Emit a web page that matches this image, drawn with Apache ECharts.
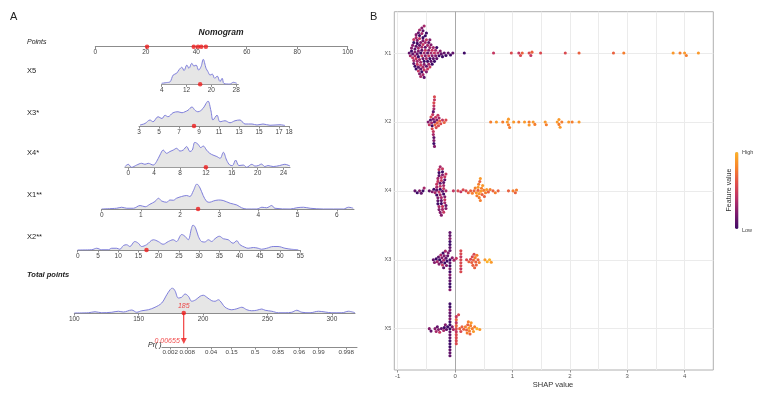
<!DOCTYPE html>
<html>
<head>
<meta charset="utf-8">
<script src="https://cdn.jsdelivr.net/npm/echarts@6/dist/echarts.min.js"></script>
<style>
  html, body { margin: 0; padding: 0; background: #fff; }
  #chart { width: 767px; height: 400px; }
</style>
</head>
<body>
<div id="chart"></div>
<script>
// ---- panel A : nomogram data ----
const pointsTicks = [0, 20, 40, 60, 80, 100];
const pointsMarks = [20.5, 39.0, 40.7, 42.0, 43.8];

const x5Ticks = [4, 12, 20, 28];
const x5Mark = 16.4;
const x5Density = [[4.0,0.04],[5.6,0.07],[6.7,0.1],[7.7,0.37],[8.8,0.44],[9.7,0.6],[10.5,0.68],[11.2,0.55],[12.1,0.77],[12.8,0.64],[13.7,0.84],[14.4,0.73],[15.1,0.77],[15.9,0.57],[16.7,0.71],[17.4,1.0],[18.3,0.64],[18.9,0.51],[19.6,0.37],[20.3,0.41],[21.1,0.24],[21.9,0.33],[22.8,0.11],[23.5,0.24],[24.1,0.03],[26.0,0.01],[27.1,0.08],[28.2,0.04]];

const x3Ticks = [3, 5, 7, 9, 11, 13, 15, 17, 18];
const x3Mark = 8.5;
const x3Density = [[3.1,0.04],[3.6,0.1],[4.1,0.24],[4.4,0.17],[4.9,0.37],[5.3,0.3],[5.6,0.43],[5.9,0.37],[6.4,0.53],[6.9,0.57],[7.3,0.53],[7.6,0.57],[7.9,0.63],[8.3,0.76],[8.6,0.63],[8.9,0.57],[9.4,0.7],[9.7,0.9],[9.9,1.0],[10.2,0.6],[10.4,0.24],[10.8,0.43],[11.1,0.17],[11.6,0.21],[12.1,0.13],[12.6,0.21],[13.1,0.24],[13.6,0.08],[14.3,0.08],[14.8,0.04],[15.4,0.08],[16.1,0.03],[17.1,0.05],[17.6,0.02]];

const x4Ticks = [0, 4, 8, 12, 16, 20, 24];
const x4Mark = 12;
const x4Density = [[-0.5,0.03],[0,0.12],[0.52,0.0],[1.3,0.09],[2.07,0.16],[2.58,0.12],[3.09,0.16],[3.86,0.09],[4.38,0.23],[4.9,0.49],[5.41,0.69],[5.93,0.56],[6.44,0.63],[6.96,0.69],[7.48,0.76],[7.99,0.65],[8.5,0.69],[9.03,0.83],[9.54,0.63],[9.9,0.69],[10.3,1.0],[10.8,0.92],[11.2,0.79],[11.6,0.85],[12.1,0.69],[12.6,0.56],[13.1,0.49],[13.7,0.43],[14.2,0.36],[14.7,0.6],[15.2,0.29],[15.7,0.09],[16.1,0.07],[16.6,0.29],[17.1,0.07],[17.8,0.09],[18.3,0.0],[19.1,0.12],[19.6,0.05],[20.1,0.07],[20.6,0.13],[21.1,0.03],[21.6,0.07],[22.4,0.03],[23.4,0.07],[24.2,0.12],[25.0,0.05]];

const x1Ticks = [0, 1, 2, 3, 4, 5, 6];
const x1Mark = 2.46;
const x1Density = [[0,0],[0.38,0.03],[0.51,0.07],[0.64,0.03],[0.81,0.03],[0.98,0.14],[1.11,0.09],[1.23,0.19],[1.36,0.3],[1.45,0.43],[1.53,0.32],[1.66,0.27],[1.74,0.36],[1.83,0.35],[1.91,0.43],[2.04,0.5],[2.17,0.54],[2.25,0.5],[2.34,0.73],[2.43,1.0],[2.51,0.84],[2.59,0.54],[2.68,0.3],[2.76,0.27],[2.85,0.32],[2.98,0.36],[3.1,0.34],[3.28,0.23],[3.45,0.16],[3.57,0.05],[3.7,0],[3.96,0],[4.09,0.07],[4.21,0.05],[4.34,0.14],[4.42,0.03],[4.81,0],[4.98,0.05],[5.15,0.07],[5.32,0.03],[5.66,0],[6.17,0],[6.3,0.07],[6.42,0.03]];

const x2Ticks = [0, 5, 10, 15, 20, 25, 30, 35, 40, 45, 50, 55];
const x2Mark = 17.0;
const x2Density = [[0,0],[3.46,0.01],[4.69,0.07],[5.93,0.01],[7.57,0.01],[8.4,0.07],[9.63,0.07],[10.4,0.03],[11.3,0.18],[12.1,0.21],[12.9,0.14],[14.1,0.34],[15.0,0.27],[15.8,0.14],[17.0,0.21],[18.7,0.41],[19.9,0.34],[21.1,0.23],[22.4,0.34],[23.6,0.41],[24.4,0.34],[25.7,0.62],[26.5,0.55],[27.3,0.41],[28.1,0.86],[28.5,1.0],[29.1,0.89],[29.8,0.55],[30.6,0.34],[31.4,0.32],[32.3,0.41],[33.1,0.34],[33.9,0.45],[35.0,0.55],[36.0,0.45],[37.2,0.41],[38.4,0.27],[39.3,0.37],[40.1,0.21],[41.3,0.11],[42.1,0.07],[43.4,0.1],[44.6,0.07],[45.4,0.03],[46.7,0.07],[48.3,0.14],[49.5,0.14],[51.2,0.07],[52.8,0.03],[54.5,0.01]];

const totalTicks = [100, 150, 200, 250, 300];
const totalMark = 185;
const totalDensity = [[100,0],[110.9,0.01],[116.1,0.05],[121.3,0.01],[129.1,0.03],[134.2,0.07],[138.1,0.04],[144.6,0.12],[148.5,0.03],[152.4,0.09],[157.5,0.13],[162.7,0.23],[167.9,0.4],[171.8,0.73],[174.4,0.93],[176.1,1.0],[178.2,0.89],[180.8,0.6],[183.4,0.63],[186.0,0.76],[188.6,0.67],[191.2,0.47],[194.3,0.53],[197.7,0.67],[200.2,0.71],[202.9,0.63],[206.8,0.49],[209.3,0.47],[211.9,0.53],[214.5,0.4],[217.1,0.23],[222.3,0.13],[226.2,0.17],[230.1,0.23],[234.0,0.13],[237.8,0.09],[241.7,0.11],[245.6,0.16],[248.2,0.11],[253.4,0.07],[258.5,0.01],[263.7,0.01],[268.9,0.03],[272.8,0.11],[276.7,0.03],[283.1,0.01],[289.6,0.07],[294.8,0.04],[300,0.01],[307.8,0.01],[312.9,0.07],[318,0.01]];

// probability axis: label and its position in total points
const prLabels = ['0.002', '0.008', '0.04', '0.15', '0.5', '0.85', '0.96', '0.99', '0.998'];
const prPos = [174.4, 187.6, 206.2, 222.1, 240.4, 258.3, 274.6, 289.7, 311.1];
const prMarkText = '0.00655';

const rowNames = ['X5', 'X3*', 'X4*', 'X1**', 'X2**'];

// ---- panel B : SHAP beeswarm data  [shap value, [feature level of each point, 0 low .. 9 high]] ----
const shapFeatures = ['X1', 'X2', 'X4', 'X3', 'X5'];
const x1Shap = [
  [-0.80,[1]],[-0.78,[3]],[-0.76,[0,2]],[-0.74,[1,4,2]],
  [-0.72,[3,0,1,4]],[-0.70,[2,3,1,0]],[-0.68,[4,1,3,0,2]],
  [-0.66,[1,3,0,4,2]],[-0.64,[2,0,3,1,4,1]],[-0.62,[3,1,4,0,2,3]],
  [-0.60,[0,3,2,4,1,3]],[-0.58,[4,1,3,0,3,2]],[-0.56,[1,4,2,3,0,3,1]],
  [-0.54,[3,0,2,4,1,3]],[-0.52,[2,4,1,3,0]],[-0.50,[3,1,4,2,0]],
  [-0.48,[1,3,0,4]],[-0.46,[4,2,1,3]],[-0.44,[0,3,2,4]],[-0.42,[3,1,2]],
  [-0.40,[2,4,0]],[-0.38,[1,3]],[-0.36,[4,0]],[-0.34,[2,3]],[-0.32,[1,0]],
  [-0.30,[3]],[-0.28,[0]],[-0.26,[2]],[-0.24,[1]],[-0.22,[0]],
  [-0.19,[1]],[-0.16,[0]],[-0.12,[1]],[-0.08,[0]],[-0.04,[1]],[0.16,[0]],
  [0.67,[4]],[0.98,[5]],[1.11,[4]],[1.14,[5]],[1.17,[6]],[1.29,[5]],[1.32,[4]],[1.34,[6]],
  [1.49,[5]],[1.92,[5]],[2.16,[6]],[2.76,[6]],[2.94,[7]],[3.80,[8]],[3.92,[7]],[4.00,[8]],[4.03,[7]],[4.24,[8]]
];
const x2Shap = [
  [-0.47,[2]],[-0.45,[4]],[-0.43,[1]],[-0.42,[5]],[-0.41,[3]],[-0.40,[0,5]],[-0.39,[4]],
  [-0.38,[2,4,1,3]],[-0.37,[3,1,4,2,5,0]],[-0.36,[1,4,2,5]],
  [-0.35,[6]],[-0.34,[4]],[-0.33,[5]],[-0.32,[2]],[-0.31,[6]],[-0.30,[4]],[-0.29,[5]],[-0.28,[3]],
  [-0.27,[6]],[-0.25,[5]],[-0.22,[4]],[-0.19,[6]],[-0.16,[5]],
  [0.62,[7]],[0.72,[8]],[0.83,[7]],[0.91,[8]],[0.93,[7,8]],[0.95,[7]],[1.02,[8]],[1.11,[7]],[1.21,[8]],
  [1.29,[7,8]],[1.36,[8]],[1.39,[7]],[1.57,[8]],[1.59,[7]],[1.78,[8]],[1.81,[7,8]],[1.83,[8]],[1.86,[7]],
  [1.98,[8]],[2.04,[7]],[2.16,[8]]
];
const x4Shap = [
  [-0.70,[1]],[-0.66,[0]],[-0.62,[2]],[-0.59,[1]],[-0.56,[0]],[-0.54,[3]],[-0.45,[1]],[-0.40,[2]],[-0.37,[0]],[-0.35,[3]],
  [-0.32,[1,3,0,4]],[-0.30,[2,4,1,3,0]],[-0.28,[4,1,3,0,2,4]],[-0.26,[0,3,4,1,2,3]],[-0.24,[3,1,4,0,4,2]],
  [-0.22,[1,4,2,3,0,4]],[-0.20,[4,0,3,1,4]],[-0.18,[2,4,1,3,4]],[-0.16,[3,1,4,2]],
  [-0.03,[4]],[0.05,[5]],[0.10,[4]],[0.14,[5]],[0.19,[5]],[0.23,[6]],[0.27,[6]],[0.30,[7]],[0.33,[6]],[0.35,[7]],
  [0.37,[8]],[0.38,[7]],[0.40,[6,8]],[0.41,[7]],[0.42,[8,7]],[0.43,[6]],[0.44,[7,8]],[0.45,[8]],[0.46,[7]],
  [0.47,[6]],[0.48,[8]],[0.50,[7]],[0.51,[6]],[0.53,[7]],[0.55,[8]],[0.58,[6]],[0.61,[7]],[0.66,[6]],
  [0.70,[7]],[0.75,[6]],[0.93,[6]],[1.01,[7]],[1.05,[6]],[1.07,[7]]
];
const x3Shap = [
  [-0.38,[1]],[-0.36,[2]],[-0.33,[0]],[-0.31,[3]],[-0.29,[1]],[-0.28,[2]],[-0.27,[0]],[-0.25,[3]],[-0.24,[1]],
  [-0.23,[2]],[-0.22,[4]],[-0.21,[0]],[-0.20,[3,1]],[-0.19,[2]],[-0.18,[0]],[-0.17,[3]],[-0.16,[1]],[-0.15,[2]],
  [-0.14,[0]],[-0.13,[1]],[-0.12,[2]],
  [-0.09,[0,1,0,2,1,0,1,2,0,1,0,1,2,0,1,0,1,2]],
  [-0.05,[2]],[-0.02,[3]],[0.02,[4]],
  [0.10,[5,5,4,5,5,4,5,5]],
  [0.20,[5]],[0.24,[6]],[0.27,[5]],[0.29,[6]],[0.30,[5]],[0.31,[6]],[0.32,[6]],[0.33,[5]],[0.34,[6]],
  [0.35,[7]],[0.36,[6]],[0.37,[6]],[0.38,[7]],[0.40,[6]],[0.42,[7]],
  [0.52,[8]],[0.56,[9]],[0.60,[9]],[0.63,[8]]
];
const x5Shap = [
  [-0.45,[2]],[-0.42,[1]],[-0.35,[2]],[-0.33,[3]],[-0.31,[1]],[-0.29,[2]],[-0.27,[4]],[-0.24,[1]],[-0.20,[3]],
  [-0.19,[0]],[-0.17,[2]],[-0.15,[1]],[-0.13,[0]],
  [-0.09,[0,1,0,1,0,1,2,0,1,0,1,0,2,1,0,1,0,1]],
  [-0.05,[2]],[-0.03,[3]],
  [0.02,[5,4,6,5,4,5,6,5,4,5]],
  [0.06,[5]],[0.08,[6]],[0.10,[5]],[0.12,[6]],[0.15,[6]],[0.18,[7]],[0.20,[6]],[0.21,[7]],[0.22,[6]],
  [0.23,[7]],[0.24,[8]],[0.25,[7]],[0.26,[6]],[0.27,[7]],[0.28,[8]],[0.30,[7]],[0.32,[8]],[0.34,[7]],
  [0.38,[9]],[0.43,[8]]
];
const shapTicks = [-1, 0, 1, 2, 3, 4];
const shapGrid = [-1, -0.5, 0.5, 1, 1.5, 2, 2.5, 3, 3.5, 4];
const featColors = ['#3f0a66', '#7d1b6d', '#bb3068', '#e25049', '#f7842b', '#fdb32a'];

// ---------------------------------------------------------------
const chart = echarts.init(document.getElementById('chart'));

const axisGray = '#8c8c8c';
const densLine = '#7f7fdb';
const densFill = '#e6e6e6';
const red = '#ee1b1b';
const fontFam = '"Liberation Sans", Arial, sans-serif';

// rows of the nomogram, axis placement in pixels
const rows = [
  { left: 95.3, right: 347.7, base: 46.7, min: 0, max: 100, ticks: pointsTicks, dens: null, marks: pointsMarks },
  { left: 161.7, right: 238.3, base: 84.3, min: 4, max: 28.7, ticks: x5Ticks, dens: x5Density, marks: [x5Mark] },
  { left: 139, right: 289, base: 126, min: 3, max: 18, ticks: x3Ticks, dens: x3Density, marks: [x3Mark] },
  { left: 125, right: 290, base: 167.3, min: -0.5, max: 25, ticks: x4Ticks, dens: x4Density, marks: [x4Mark] },
  { left: 101.7, right: 354, base: 209, min: 0, max: 6.44, ticks: x1Ticks, dens: x1Density, marks: [x1Mark] },
  { left: 77.7, right: 300.3, base: 250, min: 0, max: 55, ticks: x2Ticks, dens: x2Density, marks: [x2Mark] },
  { left: 74.3, right: 355, base: 313, min: 100, max: 318, ticks: totalTicks, dens: totalDensity, marks: [] },
  { left: 161.9, right: 357, base: 347, min: 168, max: 319.5, ticks: prPos, dens: null, marks: [], pr: true }
];

const grids = [], xAxes = [], yAxes = [], series = [];

rows.forEach((r, i) => {
  const h = r.pr ? 10 : 25;
  grids.push({ left: r.left, top: r.base - h, width: r.right - r.left, height: h });
  xAxes.push({
    gridIndex: i, type: 'value', min: r.min, max: r.max, position: 'bottom',
    axisLine: { lineStyle: { color: axisGray, width: 1 } },
    axisTick: { length: 2.5, customValues: r.ticks, lineStyle: { color: axisGray } },
    axisLabel: {
      customValues: r.ticks, fontSize: r.pr ? 6.2 : 6.5, color: '#444', margin: 2.5,
      formatter: r.pr ? (v => {
        let k = 0;
        prPos.forEach((p, j) => { if (Math.abs(p - v) < Math.abs(prPos[k] - v)) k = j; });
        return prLabels[k];
      }) : (v => String(v))
    },
    splitLine: { show: false }
  });
  yAxes.push({ gridIndex: i, type: 'value', min: 0, max: 1, show: false });
  if (r.dens) {
    series.push({
      type: 'line', xAxisIndex: i, yAxisIndex: i, data: r.dens, smooth: 0.35,
      symbol: 'none', lineStyle: { color: densLine, width: 1 },
      areaStyle: { color: densFill, opacity: 1 }, silent: true
    });
  }
  if (r.marks.length) {
    series.push({
      type: 'scatter', xAxisIndex: i, yAxisIndex: i, symbolSize: 4.5, clip: false, z: 5,
      itemStyle: { color: red }, data: r.marks.map(v => [v, 0])
    });
  }
});

// total points marker, connector, and probability triangle
const totalIdx = 6, prIdx = 7;
series.push({
  type: 'line', xAxisIndex: totalIdx, yAxisIndex: totalIdx, clip: false, symbol: 'none', z: 4,
  lineStyle: { color: red, width: 1 }, data: [[totalMark, 0], [totalMark, -1.05]]
});
series.push({
  type: 'scatter', xAxisIndex: totalIdx, yAxisIndex: totalIdx, clip: false, symbolSize: 4.5, z: 6,
  itemStyle: { color: red }, data: [[totalMark, 0]],
  label: { show: true, position: 'top', distance: 1, formatter: String(totalMark), color: red,
           fontStyle: 'italic', fontSize: 7, fontFamily: fontFam }
});
series.push({
  type: 'scatter', xAxisIndex: prIdx, yAxisIndex: prIdx, clip: false, symbol: 'triangle',
  symbolRotate: 180, symbolSize: 6, z: 6, itemStyle: { color: red }, data: [[totalMark, 0.6]],
  label: { show: true, position: 'left', distance: 1, formatter: prMarkText, color: red,
           fontStyle: 'italic', fontSize: 7, fontFamily: fontFam }
});

// ---- panel B ----
const bIdx = rows.length;
grids.push({ left: 394.3, top: 11.7, width: 319, height: 358.3, show: true,
             borderColor: '#b0b0b0', borderWidth: 1 });
const xMinB = -1.06, xMaxB = 4.5, yMinB = 0.4, yMaxB = 5.6;
xAxes.push({
  gridIndex: bIdx, type: 'value', min: xMinB, max: xMaxB,
  axisLine: { show: false },
  axisTick: { length: 2.5, customValues: shapTicks, lineStyle: { color: '#999' } },
  axisLabel: { customValues: shapTicks, fontSize: 6, color: '#555', margin: 3 },
  splitLine: { show: false }
});
yAxes.push({
  gridIndex: bIdx, type: 'value', min: yMinB, max: yMaxB, inverse: true,
  axisLine: { show: false },
  axisTick: { length: 2.5, customValues: [1, 2, 3, 4, 5], lineStyle: { color: '#999' } },
  axisLabel: { customValues: [1, 2, 3, 4, 5], fontSize: 5.5, color: '#555', margin: 3,
               formatter: v => shapFeatures[Math.round(v) - 1] },
  splitLine: { show: false }
});

// beeswarm layout: place each point at the closest free offset from its row line
const pxPerX = 319 / (xMaxB - xMinB);
const pxPerY = 358.3 / (yMaxB - yMinB);
const dotGap = 3.0;
function swarm(pts, rowY) {
  const flat = [];
  pts.forEach(([v, lv]) => lv.forEach(l => flat.push([v, l])));
  flat.sort((a, b) => a[0] - b[0]);
  const placed = [], out = [];
  flat.forEach(([v, l]) => {
    const px = v * pxPerX;
    const near = placed.filter(p => Math.abs(p.x - px) < dotGap);
    const cands = [0];
    near.forEach(p => {
      const dy = Math.sqrt(dotGap * dotGap - (p.x - px) ** 2);
      cands.push(p.y + dy, p.y - dy);
    });
    cands.sort((a, b) => Math.abs(a) - Math.abs(b));
    const y = cands.find(c => near.every(p => (p.x - px) ** 2 + (p.y - c) ** 2 >= dotGap * dotGap - 0.01));
    placed.push({ x: px, y });
    out.push([v, rowY + y / pxPerY, l]);
  });
  return out;
}
const swarmData = [].concat(
  swarm(x1Shap, 1), swarm(x2Shap, 2), swarm(x4Shap, 3), swarm(x3Shap, 4), swarm(x5Shap, 5)
);

// grid lines
series.push({
  type: 'line', xAxisIndex: bIdx, yAxisIndex: bIdx, data: [], silent: true,
  markLine: {
    silent: true, symbol: 'none', animation: false, label: { show: false },
    lineStyle: { color: '#ebebeb', width: 1, type: 'solid' },
    data: shapGrid.map(v => ({ xAxis: v })).concat([1, 2, 3, 4, 5].map(v => ({ yAxis: v })))
  }
});
series.push({
  type: 'line', xAxisIndex: bIdx, yAxisIndex: bIdx, data: [], silent: true,
  markLine: {
    silent: true, symbol: 'none', animation: false, label: { show: false },
    lineStyle: { color: '#a9a9a9', width: 1, type: 'solid' },
    data: [{ xAxis: 0 }]
  }
});
const swarmSeries = series.length;
series.push({
  type: 'scatter', xAxisIndex: bIdx, yAxisIndex: bIdx, symbolSize: 3.1, z: 5,
  itemStyle: { opacity: 1 }, data: swarmData
});

const txt = (x, y, text, s) => ({
  type: 'text', x, y, silent: true,
  style: Object.assign({ text, fill: '#222', fontSize: 7.5, fontFamily: fontFam,
                         align: 'left', verticalAlign: 'middle' }, s || {})
});
const labelYs = [71, 113, 153, 195, 237];
const graphics = [
  txt(10, 17, 'A', { fontSize: 11 }),
  txt(370, 17, 'B', { fontSize: 11 }),
  txt(221, 33, 'Nomogram', { align: 'center', fontWeight: 'bold', fontStyle: 'italic', fontSize: 8.5 }),
  txt(27, 42, 'Points', { fontStyle: 'italic', fontSize: 7 }),
  txt(27, 275, 'Total points', { fontWeight: 'bold', fontStyle: 'italic', fontSize: 7.5 }),
  txt(148, 345, 'Pr( )', { fontStyle: 'italic', fontSize: 7 }),
  txt(553, 385, 'SHAP value', { align: 'center', fontSize: 7.5, fill: '#333' }),
  txt(742, 152, 'High', { fontSize: 5.5, fill: '#444' }),
  txt(742, 230, 'Low', { fontSize: 5.5, fill: '#444' }),
  Object.assign(txt(729, 190, 'Feature value', { align: 'center', fontSize: 7, fill: '#333' }), { rotation: Math.PI / 2 })
].concat(rowNames.map((n, i) => txt(27, labelYs[i], n, { fontSize: 7.5 })));

chart.setOption({
  animation: false,
  backgroundColor: '#fff',
  textStyle: { fontFamily: fontFam },
  grid: grids,
  xAxis: xAxes,
  yAxis: yAxes,
  visualMap: {
    type: 'continuous', min: 0, max: 9, dimension: 2, seriesIndex: swarmSeries,
    inRange: { color: featColors }, calculable: false, padding: 0,
    left: 735, top: 152, itemWidth: 3.5, itemHeight: 77, text: null
  },
  graphic: graphics,
  series: series
});
</script>
</body>
</html>
